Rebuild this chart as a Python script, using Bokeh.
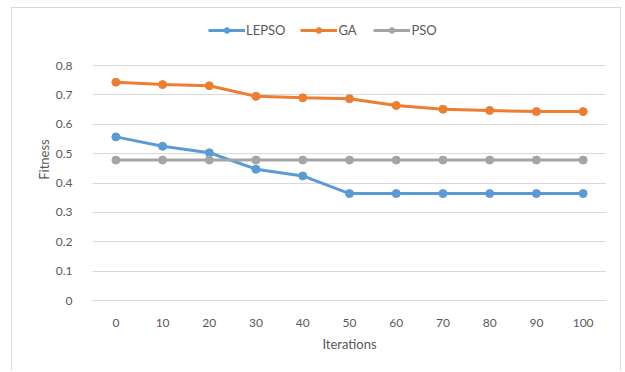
from bokeh.plotting import figure
from bokeh.models import ColumnDataSource, FactorRange, Range1d, FixedTicker, CustomJSTickFormatter, Legend, LegendItem
from bokeh.embed import file_html
from bokeh.resources import INLINE

iterations = ["0", "10", "20", "30", "40", "50", "60", "70", "80", "90", "100"]
lepso = [0.557, 0.525, 0.503, 0.447, 0.424, 0.364, 0.364, 0.364, 0.364, 0.364, 0.364]
ga = [0.743, 0.735, 0.731, 0.695, 0.690, 0.687, 0.664, 0.651, 0.647, 0.643, 0.643]
pso = [0.478, 0.478, 0.478, 0.478, 0.478, 0.478, 0.478, 0.478, 0.478, 0.478, 0.478]
y_ticks = [0, 0.1, 0.2, 0.3, 0.4, 0.5, 0.6, 0.7, 0.8]

series = [("LEPSO", lepso, "#5B9BD5"), ("GA", ga, "#ED7D31"), ("PSO", pso, "#A5A5A5")]

FONT = "Lato"
TXT = "#595959"

# y range extends above 0.8 so the legend sits inside the (unclipped) frame area
p = figure(width=610, height=363, x_range=FactorRange(*iterations, range_padding=0),
           y_range=Range1d(0, 0.96), output_backend="svg", toolbar_location=None,
           min_border_left=80, min_border_right=16, min_border_top=10, min_border_bottom=71,
           margin=(7, 0, 0, 11),
           styles={"border-left": "1px solid #D9D9D9", "border-top": "1px solid #D9D9D9",
                   "border-right": "1px solid #D9D9D9"})
p.outline_line_color = None
p.background_fill_color = "white"
p.border_fill_color = "white"

src = ColumnDataSource(dict(x=iterations, lepso=lepso, ga=ga, pso=pso))
items = []
for name, vals, col in series:
    key = name.lower()
    r1 = p.line(x="x", y=key, source=src, line_color=col, line_width=3)
    r2 = p.scatter(x="x", y=key, source=src, marker="circle", size=8, fill_color=col, line_color=col)
    items.append(LegendItem(label=name, renderers=[r1, r2]))

legend = Legend(items=items, orientation="horizontal", location=(116, 262),
                glyph_width=37, glyph_height=14, label_standoff=1, spacing=15,
                padding=0, margin=0, border_line_color=None, background_fill_alpha=0,
                label_text_font=FONT, label_text_font_size="13px", label_text_color=TXT,
                label_height=14)
p.add_layout(legend, "center")

# axes
p.xaxis.axis_line_color = "#D9D9D9"
p.xaxis.major_tick_line_color = None
p.xaxis.minor_tick_line_color = None
p.xaxis.major_label_standoff = 12
p.xaxis.axis_label = "Iterations"
p.xaxis.axis_label_standoff = 6
p.yaxis.axis_line_color = None
p.yaxis.major_tick_line_color = None
p.yaxis.minor_tick_line_color = None
p.yaxis.ticker = FixedTicker(ticks=y_ticks)
p.yaxis.formatter = CustomJSTickFormatter(code="return (Math.round(tick*10)/10).toString();")
p.yaxis.major_label_standoff = 14
p.yaxis.axis_label = "Fitness"
p.yaxis.axis_label_standoff = 1
for ax in (p.xaxis, p.yaxis):
    ax.major_label_text_font = FONT
    ax.major_label_text_font_size = "12px"
    ax.major_label_text_color = TXT
    ax.axis_label_text_font = FONT
    ax.axis_label_text_font_size = "13px"
    ax.axis_label_text_font_style = "normal"
    ax.axis_label_text_color = TXT

p.xgrid.grid_line_color = None
p.ygrid.grid_line_color = "#D9D9D9"
p.ygrid.grid_line_width = 1
p.ygrid.ticker = FixedTicker(ticks=y_ticks)

open("out.html", "w").write(file_html(p, INLINE))
